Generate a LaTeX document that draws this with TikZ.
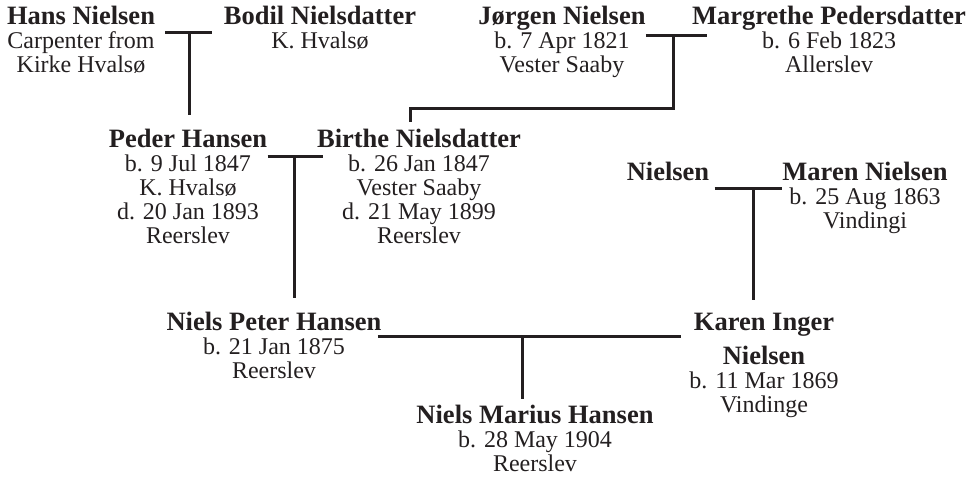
\documentclass[tikz,border=0pt]{standalone}
\usepackage{fontspec}
\setmainfont{Liberation Serif}
\definecolor{ink}{HTML}{231F20}
\newcommand{\pname}[1]{{\fontsize{13.25}{12}\selectfont\bfseries\rule{0pt}{10pt}#1}}
\tikzset{
  person/.style = {anchor=north, align=center, inner sep=0pt, text=ink, font=\fontsize{12}{12}\selectfont},
  link/.style   = {draw=ink, line width=1.5pt}
}

\begin{document}
\begin{tikzpicture}[x=0.5pt, y=-0.5pt]
  \useasboundingbox (0,0) rectangle (979,477);
  % great-grandparents
  \node[person] (hans)      at (81,4)  {\pname{Hans Nielsen}\\Carpenter from\\Kirke Hvalsø};
  \node[person] (bodil)     at (320,4) {\pname{Bodil Nielsdatter}\\K. Hvalsø};
  \node[person] (jorgen)    at (562,4) {\pname{Jørgen Nielsen}\\b. 7 Apr 1821\\Vester Saaby};
  \node[person] (margrethe) at (829,4) {\pname{Margrethe Pedersdatter}\\b. 6 Feb 1823\\Allerslev};
  % grandparents
  \node[person] (peder)   at (188,127) {\pname{Peder Hansen}\\b. 9 Jul 1847\\K. Hvalsø\\d. 20 Jan 1893\\Reerslev};
  \node[person] (birthe)  at (419,127) {\pname{Birthe Nielsdatter}\\b. 26 Jan 1847\\Vester Saaby\\d. 21 May 1899\\Reerslev};
  \node[person] (nielsen) at (668,160) {\pname{Nielsen}};
  \node[person] (maren)   at (865,160) {\pname{Maren Nielsen}\\b. 25 Aug 1863\\Vindingi};
  % parents
  \node[person] (nielsPeter) at (274,310) {\pname{Niels Peter Hansen}\\b. 21 Jan 1875\\Reerslev};
  \node[person] (karen)      at (764,310) {\pname{Karen Inger}\\[4pt]{\fontsize{13.25}{12}\selectfont\bfseries Nielsen}\\b. 11 Mar 1869\\Vindinge};
  % child
  \node[person] (marius) at (535,403) {\pname{Niels Marius Hansen}\\b. 28 May 1904\\Reerslev};

  \coordinate (m1) at (189,32);
  \coordinate (m2) at (673,35);
  \coordinate (m3) at (294,156);
  \coordinate (m4) at (753,188);
  \coordinate (m5) at (522,336);

  \draw[link, shorten <=5pt, shorten >=6pt] (hans.east |- m1) -- (bodil.west |- m1);
  \draw[link, shorten >=-7.5pt] (jorgen.east |- m2) -- (margrethe.west |- m2);
  \draw[link, shorten >=-3pt] (peder.east |- m3) -- (birthe.west |- m3);
  \draw[link, shorten <=2.5pt] (nielsen.east |- m4) -- (maren.west |- m4);
  \draw[link, shorten <=-2pt, shorten >=4pt] (nielsPeter.east |- m5) -- (karen.west |- m5);

  \draw[link, shorten >=6pt] (m1) -- (m1 |- peder.north);
  \draw[link] (m2) -- ++(0,73) -| ([xshift=-4.5pt, yshift=2.5pt]birthe.north);
  \draw[link, shorten >=6pt] (m3) -- (m3 |- nielsPeter.north);
  \draw[link, shorten >=5pt] (m4) -- (m4 |- karen.north);
  \draw[link, shorten >=2pt] (m5) -- (m5 |- marius.north);
\end{tikzpicture}
\end{document}
